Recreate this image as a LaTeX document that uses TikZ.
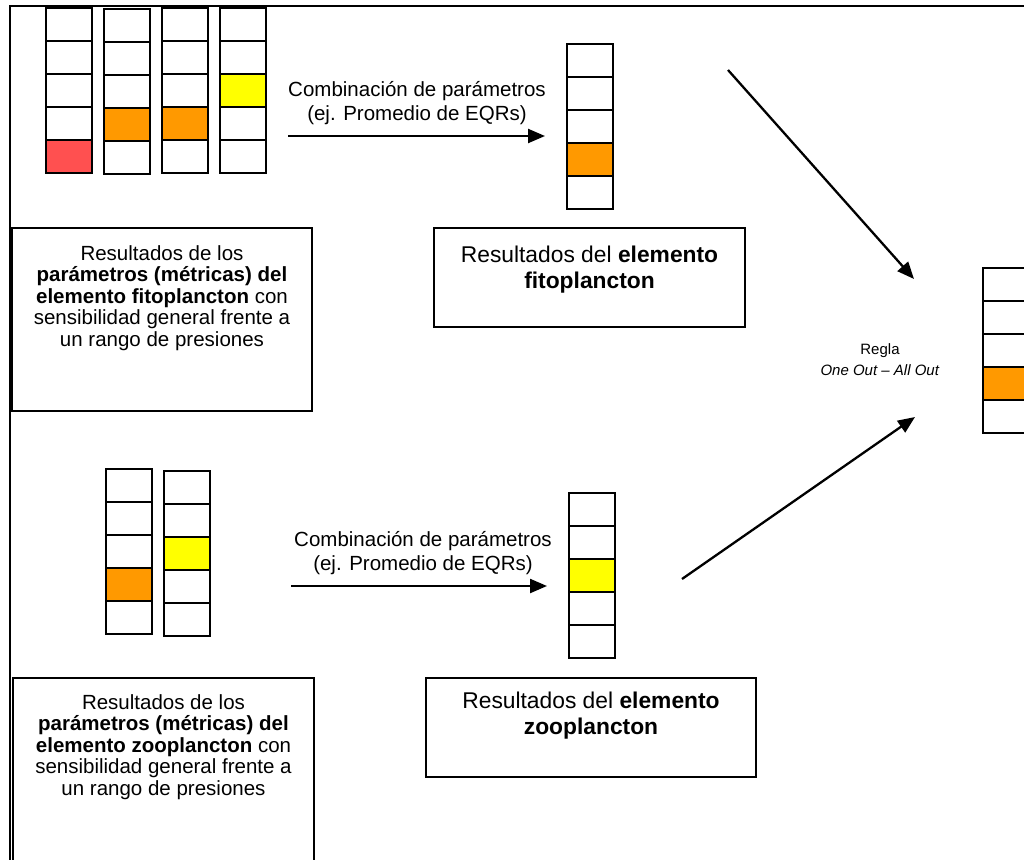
\documentclass[tikz,border=0pt]{standalone}
\usepackage{fontspec}
\setmainfont{Liberation Sans}
\usetikzlibrary{arrows.meta}
\definecolor{eqrred}{HTML}{FF5050}
\definecolor{eqrorange}{HTML}{FF9900}
\definecolor{eqryellow}{HTML}{FFFF00}
% one column of five EQR classes: name, left x, top y, coloured cell, colour
\newcommand{\eqrcol}[5]{%
  \foreach \k in {1,...,5}{
    \ifnum\k=#4 \def\cellfill{#5}\else\def\cellfill{white}\fi
    \node (#1_\k) at (#2+23,#3+\k*33-16.5) [cell,fill=\cellfill] {};
  }%
}

\begin{document}
\begin{tikzpicture}[x=1pt, y=-1pt, >={Triangle[length=17pt,width=14pt]}]
      \tikzstyle{cell}=[draw, rectangle, line width=1.6pt, minimum width=46pt, minimum height=33pt, inner sep=0pt]
      \tikzstyle{box}=[draw, rectangle, line width=1.4pt, inner sep=0pt]
      \tikzstyle{mtext}=[align=center, anchor=north, inner sep=0pt, font=\fontsize{20.5pt}{21.5pt}\selectfont]
      \tikzstyle{rtext}=[align=center, anchor=north, inner sep=0pt, font=\fontsize{22.8pt}{25.5pt}\selectfont]
      \tikzstyle{ctext}=[align=center, anchor=north, inner sep=0pt, font=\fontsize{20.5pt}{24.5pt}\selectfont]
      \tikzstyle{flow}=[->, line width=2.3pt]
      \useasboundingbox (0,0) rectangle (1024,859);
      %% frame
      \draw [line width=2.3pt] (10,865) -- (10,6) -- (1030,6);
      %% fitoplancton
      \eqrcol{fm1}{46}{8}{5}{eqrred}
      \eqrcol{fm2}{104}{9}{4}{eqrorange}
      \eqrcol{fm3}{162}{8}{4}{eqrorange}
      \eqrcol{fm4}{220}{8}{3}{eqryellow}
      \eqrcol{fr}{567}{44}{4}{eqrorange}
      \node (fitoMet) at (162,319.5) [box, minimum width=300pt, minimum height=183pt] {};
      \node (fitoMetTxt) at (162,245) [mtext] {Resultados de los\\ \textbf{parámetros (métricas) del}\\ \textbf{elemento fitoplancton} con\\ sensibilidad general frente a\\ un rango de presiones};
      \node (fitoRes) at (589.5,277.5) [box, minimum width=311pt, minimum height=99pt] {};
      \node (fitoResTxt) at (589.5,246) [rtext] {Resultados del \textbf{elemento}\\ \textbf{fitoplancton}};
      \node (combFito) at (417,81) [ctext] {Combinación de parámetros\\ (ej. Promedio de EQRs)};
      %% zooplancton
      \eqrcol{zm1}{106}{469}{4}{eqrorange}
      \eqrcol{zm2}{164}{471}{3}{eqryellow}
      \eqrcol{zr}{569}{493}{3}{eqryellow}
      \node (zooMet) at (163.5,774) [box, minimum width=301pt, minimum height=192pt] {};
      \node (zooMetTxt) at (163.5,694) [mtext] {Resultados de los\\ \textbf{parámetros (métricas) del}\\ \textbf{elemento zooplancton} con\\ sensibilidad general frente a\\ un rango de presiones};
      \node (zooRes) at (591,727.5) [box, minimum width=330pt, minimum height=99pt] {};
      \node (zooResTxt) at (591,692) [rtext] {Resultados del \textbf{elemento}\\ \textbf{zooplancton}};
      \node (combZoo) at (423,531) [ctext] {Combinación de parámetros\\ (ej. Promedio de EQRs)};
      %% final status
      \eqrcol{fin}{983}{268}{4}{eqrorange}
      \node (regla) at (880,343) [align=center, anchor=north, inner sep=0pt, font=\fontsize{15pt}{21pt}\selectfont] {Regla\\ \textit{One Out -- All Out}};
      %% arrows
      \coordinate (fitoA) at (288,136);
      \coordinate (fitoB) at (545,136);
      \coordinate (zooA) at (291,586);
      \coordinate (zooB) at (547,586);
      \coordinate (diagFa) at (728,70);
      \coordinate (diagFb) at (914,279);
      \coordinate (diagZa) at (682,579);
      \coordinate (diagZb) at (915,417);
      \draw [flow] (fitoA) -- (fitoB);
      \draw [flow] (zooA) -- (zooB);
      \draw [flow] (diagFa) -- (diagFb);
      \draw [flow] (diagZa) -- (diagZb);
%
    \end{tikzpicture}
\end{document}
